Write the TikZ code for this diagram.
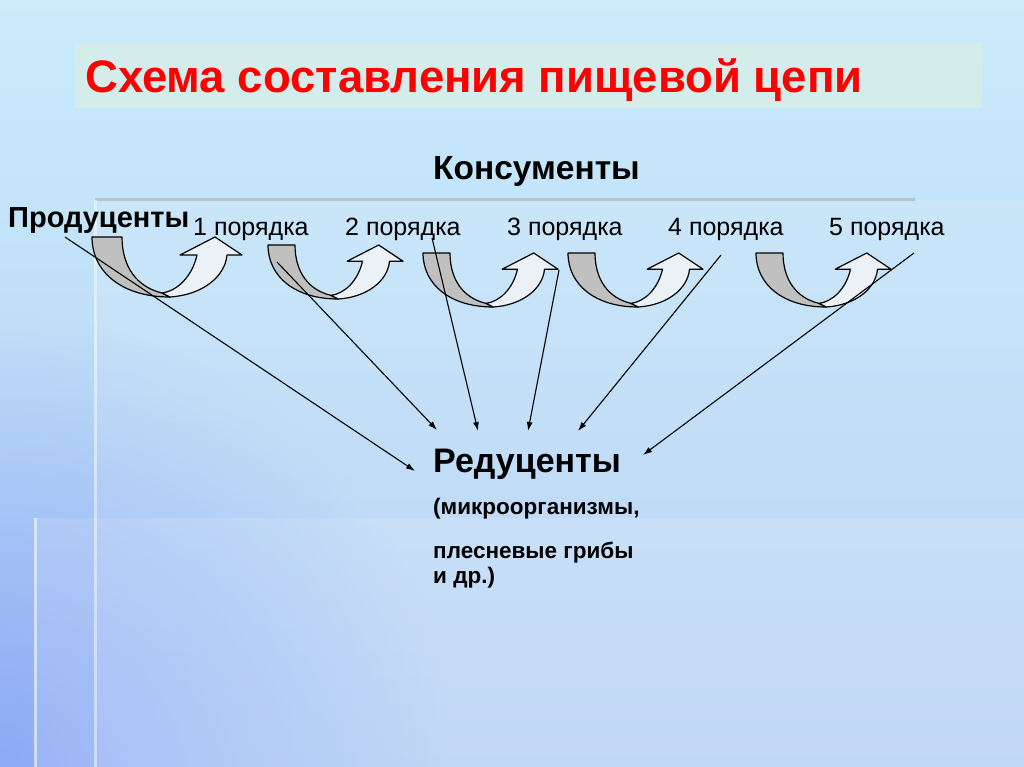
\documentclass[tikz,border=0pt]{standalone}
\usepackage{fontspec}
\setmainfont{Liberation Sans}
\usetikzlibrary{arrows.meta,fadings}
\definecolor{bgtop}{RGB}{202,236,251}
\definecolor{bgbot}{RGB}{178,206,244}
\definecolor{bgleft}{RGB}{136,166,246}
\definecolor{titlebox}{RGB}{212,236,234}
\definecolor{titlered}{RGB}{255,0,0}
\definecolor{bandgray}{RGB}{192,192,192}
\definecolor{bandlight}{RGB}{236,241,246}
\tikzfading[name=cornerfade, inner color=transparent!0, outer color=transparent!100]
\tikzset{
  lbl/.style={anchor=base west, inner sep=0pt, text=black},
  link/.style={black, line width=1.1pt, -{Latex[length=9pt,width=6pt]}},
  uturn/.pic={
    \draw[line width=1.2pt, fill=bandgray, line join=round]
      (0,0) .. controls (0,35) and (30,60) .. (78,60) -- (70,56)
      .. controls (45,50) and (30,30) .. (30,0) -- cycle;
    \draw[line width=1.2pt, fill=bandlight, line join=round]
      (78,60) .. controls (110,58) and (133,40) .. (135,18) -- (150,18) -- (123,0)
      -- (88,18) -- (105,18) .. controls (100,40) and (85,54) .. (70,56) -- cycle;
  }
}
\begin{document}
\begin{tikzpicture}[x=1pt,y=-1pt]
\useasboundingbox (0,0) rectangle (1024,767);
% background
\shade[top color=bgtop, bottom color=bgbot] (0,0) rectangle (1024,767);
\begin{scope}
\clip (0,0) rectangle (1024,767);
\fill[bgleft, path fading=cornerfade, fit fading=true, opacity=0.9] (-450,317) rectangle (450,1217);
\end{scope}
\fill[white, opacity=0.10] (95,200) rectangle (1024,767);
\draw[gray!70, line width=3pt, opacity=0.5] (95,200) -- (915,200);
\draw[white, line width=3pt, opacity=0.45] (95,200) -- (95,767);
\fill[white, opacity=0.12] (35,518) rectangle (1024,767);
\draw[white, line width=3pt, opacity=0.55] (35,518) -- (35,767);
% title
\node[fill=titlebox, minimum width=907pt, minimum height=65pt, anchor=north west, inner sep=0pt] (tbox) at (75,43) {};
\node[lbl, text=titlered, font=\fontsize{45.5}{50}\selectfont\bfseries] (title) at (85,93) {Схема составления пищевой цепи};
% labels
\node[lbl, font=\fontsize{33.5}{36}\selectfont\bfseries] (kons) at (433,180) {Консументы};
\node[lbl, font=\fontsize{29}{32}\selectfont\bfseries] (prod) at (8,228) {Продуценты};
\node[lbl, font=\fontsize{25}{28}\selectfont] (p1) at (193,236) {1 порядка};
\node[lbl, font=\fontsize{25}{28}\selectfont] (p2) at (345,236) {2 порядка};
\node[lbl, font=\fontsize{25}{28}\selectfont] (p3) at (507,236) {3 порядка};
\node[lbl, font=\fontsize{25}{28}\selectfont] (p4) at (668,236) {4 порядка};
\node[lbl, font=\fontsize{25}{28}\selectfont] (p5) at (829,236) {5 порядка};
\node[lbl, font=\fontsize{34}{38}\selectfont\bfseries] (red) at (433,472) {Редуценты};
\node[lbl, font=\fontsize{22.5}{26}\selectfont\bfseries] (s1) at (433,514) {(микроорганизмы,};
\node[lbl, font=\fontsize{22.5}{26}\selectfont\bfseries] (s2) at (433,558) {плесневые грибы};
\node[lbl, font=\fontsize{22.5}{26}\selectfont\bfseries] (s3) at (433,583) {и др.)};
% u-turn arrows
\pic (u1) at (92,237) {uturn};
\pic[scale=0.9] (u2) at (268,245) {uturn};
\pic[scale=0.9] (u3) at (423,253) {uturn};
\pic[scale=0.9] (u4) at (568,253) {uturn};
\pic[scale=0.9] (u5) at (756,253) {uturn};
% connector start and end points
\coordinate (a1) at (65,237);  \coordinate (b1) at (415,471);
\coordinate (a2) at (277,262); \coordinate (b2) at (437,430);
\coordinate (a3) at (432,238); \coordinate (b3) at (478,431);
\coordinate (a4) at (559,270); \coordinate (b4) at (528,431);
\coordinate (a5) at (721,255); \coordinate (b5) at (578,431);
\coordinate (a6) at (914,253); \coordinate (b6) at (643,455);
\foreach \i in {1,...,6} \draw[link] (a\i) -- (b\i);
\end{tikzpicture}
\end{document}
